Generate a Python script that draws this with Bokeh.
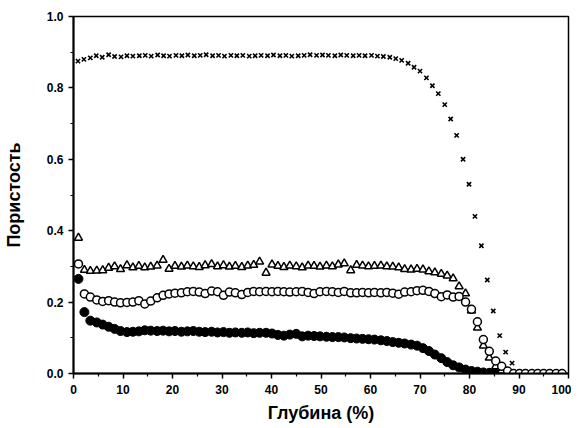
from bokeh.plotting import figure
from bokeh.models import Range1d, FixedTicker, NumeralTickFormatter
from bokeh.embed import file_html
from bokeh.resources import INLINE

# depth grid shared by the circle / triangle series (% of depth)
depth = [1.0, 2.2, 3.4, 4.7, 5.9, 7.1, 8.3, 9.5, 10.8, 12.0,
         13.2, 14.4, 15.6, 16.9, 18.1, 19.3, 20.5, 21.8, 23.0, 24.2,
         25.4, 26.6, 27.9, 29.1, 30.3, 31.5, 32.7, 34.0, 35.2, 36.4,
         37.6, 38.9, 40.1, 41.3, 42.5, 43.7, 45.0, 46.2, 47.4, 48.6,
         49.8, 51.1, 52.3, 53.5, 54.7, 56.0, 57.2, 58.4, 59.6, 60.8,
         62.1, 63.3, 64.5, 65.7, 66.9, 68.2, 69.4, 70.6, 71.8, 73.0,
         74.3, 75.5, 76.7, 77.9, 79.2, 80.4, 81.6, 82.8, 84.0, 85.3,
         86.5, 87.7, 88.9, 90.1, 91.3, 92.6, 93.8, 95.0, 96.2, 97.5,
         98.7]

porosity_open = [0.307, 0.223, 0.214, 0.206, 0.202, 0.204, 0.200, 0.198, 0.199, 0.200,
                 0.204, 0.195, 0.203, 0.212, 0.219, 0.223, 0.225, 0.226, 0.229, 0.230,
                 0.228, 0.224, 0.231, 0.229, 0.219, 0.228, 0.226, 0.221, 0.227, 0.230,
                 0.229, 0.230, 0.229, 0.230, 0.229, 0.228, 0.229, 0.230, 0.227, 0.224,
                 0.229, 0.230, 0.229, 0.227, 0.230, 0.226, 0.226, 0.227, 0.226, 0.227,
                 0.226, 0.227, 0.225, 0.222, 0.228, 0.229, 0.232, 0.233, 0.230, 0.224,
                 0.215, 0.220, 0.214, 0.216, 0.200, 0.180, 0.145, 0.095, 0.062, 0.035,
                 0.020, 0.007, 0.0, 0.0, 0.0, 0.0, 0.0, 0.0, 0.0, 0.0,
                 0.0]

porosity_triangle = [0.380, 0.290, 0.287, 0.288, 0.289, 0.296, 0.300, 0.292, 0.303, 0.297,
                     0.301, 0.297, 0.299, 0.302, 0.318, 0.293, 0.301, 0.299, 0.302, 0.300,
                     0.298, 0.303, 0.306, 0.300, 0.303, 0.299, 0.301, 0.298, 0.302, 0.304,
                     0.313, 0.282, 0.305, 0.301, 0.298, 0.302, 0.300, 0.297, 0.302, 0.301,
                     0.299, 0.302, 0.300, 0.305, 0.308, 0.289, 0.304, 0.302, 0.300, 0.301,
                     0.302, 0.300, 0.299, 0.297, 0.292, 0.291, 0.293, 0.291, 0.286, 0.283,
                     0.279, 0.274, 0.266, 0.244, 0.224, 0.176, 0.128, 0.078, 0.044, 0.020,
                     0.008]

porosity_filled = [0.265, 0.172, 0.148, 0.143, 0.137, 0.131, 0.125, 0.119, 0.116, 0.117,
                   0.118, 0.121, 0.120, 0.119, 0.120, 0.118, 0.119, 0.117, 0.118, 0.119,
                   0.117, 0.116, 0.117, 0.115, 0.116, 0.114, 0.115, 0.114, 0.115, 0.113,
                   0.114, 0.114, 0.112, 0.108, 0.106, 0.109, 0.111, 0.104, 0.106, 0.105,
                   0.104, 0.103, 0.102, 0.102, 0.101, 0.099, 0.098, 0.097, 0.096, 0.095,
                   0.093, 0.091, 0.088, 0.086, 0.084, 0.081, 0.078, 0.071, 0.063, 0.053,
                   0.043, 0.032, 0.023, 0.017, 0.011, 0.007, 0.005, 0.003, 0.002, 0.001,
                   0.0]

# cross series has its own depth positions
depth_cross = [0.9, 2.1, 3.4, 4.6, 5.8, 7.1, 8.3, 9.6, 10.8, 12.0,
               13.3, 14.5, 15.7, 17.0, 18.2, 19.4, 20.7, 21.9, 23.1, 24.4,
               25.6, 26.8, 28.1, 29.3, 30.5, 31.8, 33.0, 34.2, 35.5, 36.7,
               37.9, 39.2, 40.4, 41.7, 42.9, 44.1, 45.4, 46.6, 47.8, 49.1,
               50.3, 51.5, 52.8, 54.0, 55.2, 56.5, 57.7, 58.9, 60.2, 61.4,
               62.6, 63.9, 65.1, 66.3, 67.6, 68.8, 70.0, 71.3, 72.5, 73.7,
               75.0, 76.2, 77.4, 78.7, 79.9, 81.1, 82.4, 83.6, 84.8, 86.1,
               87.3, 88.6]
porosity_cross = [0.875, 0.880, 0.884, 0.890, 0.886, 0.893, 0.888, 0.887, 0.890, 0.889,
                  0.890, 0.891, 0.889, 0.892, 0.890, 0.889, 0.891, 0.890, 0.892, 0.890,
                  0.891, 0.893, 0.890, 0.891, 0.889, 0.891, 0.890, 0.891, 0.889, 0.890,
                  0.891, 0.890, 0.892, 0.890, 0.891, 0.889, 0.890, 0.891, 0.893, 0.891,
                  0.892, 0.891, 0.890, 0.892, 0.891, 0.890, 0.891, 0.890, 0.891, 0.889,
                  0.888, 0.886, 0.882, 0.877, 0.869, 0.858, 0.847, 0.828, 0.806, 0.784,
                  0.753, 0.713, 0.667, 0.600, 0.530, 0.440, 0.358, 0.262, 0.175, 0.106,
                  0.060, 0.029]

x_ticks = [0, 10, 20, 30, 40, 50, 60, 70, 80, 90, 100]
x_minor = [5, 15, 25, 35, 45, 55, 65, 75, 85, 95]
y_ticks = [0.0, 0.2, 0.4, 0.6, 0.8, 1.0]
y_minor = [0.1, 0.3, 0.5, 0.7, 0.9]

FONT = "Liberation Sans"

p = figure(width=571, height=426, output_backend="svg", toolbar_location=None,
           x_range=Range1d(0, 100), y_range=Range1d(0, 1),
           min_border_left=73, min_border_right=3, min_border_top=16, min_border_bottom=53)

p.background_fill_color = "white"
p.border_fill_color = "white"
p.outline_line_color = "black"
p.outline_line_width = 1.5
p.xgrid.visible = False
p.ygrid.visible = False

for ax in (p.xaxis[0], p.yaxis[0]):
    ax.axis_line_width = 2
    ax.axis_line_color = "black"
    ax.major_tick_line_color = "black"
    ax.minor_tick_line_color = "black"
    ax.major_tick_line_width = 1.5
    ax.minor_tick_line_width = 1.2
    ax.major_tick_in = 0
    ax.major_tick_out = 5
    ax.minor_tick_in = 0
    ax.minor_tick_out = 3
    ax.major_label_text_font = FONT
    ax.major_label_text_font_style = "bold"
    ax.major_label_text_font_size = "12px"
    ax.major_label_text_color = "black"
    ax.axis_label_text_font = FONT
    ax.axis_label_text_font_style = "bold"
    ax.axis_label_text_font_size = "18px"
    ax.axis_label_text_color = "black"

p.xaxis.ticker = FixedTicker(ticks=x_ticks, minor_ticks=x_minor)
p.yaxis.ticker = FixedTicker(ticks=y_ticks, minor_ticks=y_minor)
p.yaxis.formatter = NumeralTickFormatter(format="0.0")
p.xaxis.axis_label = "Глубина (%)"
p.yaxis.axis_label = "Пористость"
p.xaxis.major_label_standoff = 6
p.yaxis.major_label_standoff = 5
p.xaxis.axis_label_standoff = 6
p.yaxis.axis_label_standoff = 20

n_tri = len(porosity_triangle)
n_fill = len(porosity_filled)

p.scatter(depth[:n_fill], porosity_filled, marker="circle", size=9,
          fill_color="black", line_color="black", line_width=1)
p.scatter(depth[:n_tri], porosity_triangle, marker="triangle", size=8,
          fill_color="white", line_color="black", line_width=1.5)
p.scatter(depth, porosity_open, marker="circle", size=8,
          fill_color="white", line_color="black", line_width=1.5)
p.scatter(depth_cross, porosity_cross, marker="x", size=6,
          line_color="black", line_width=1.6)

open("out.html", "w").write(file_html(p, INLINE))
